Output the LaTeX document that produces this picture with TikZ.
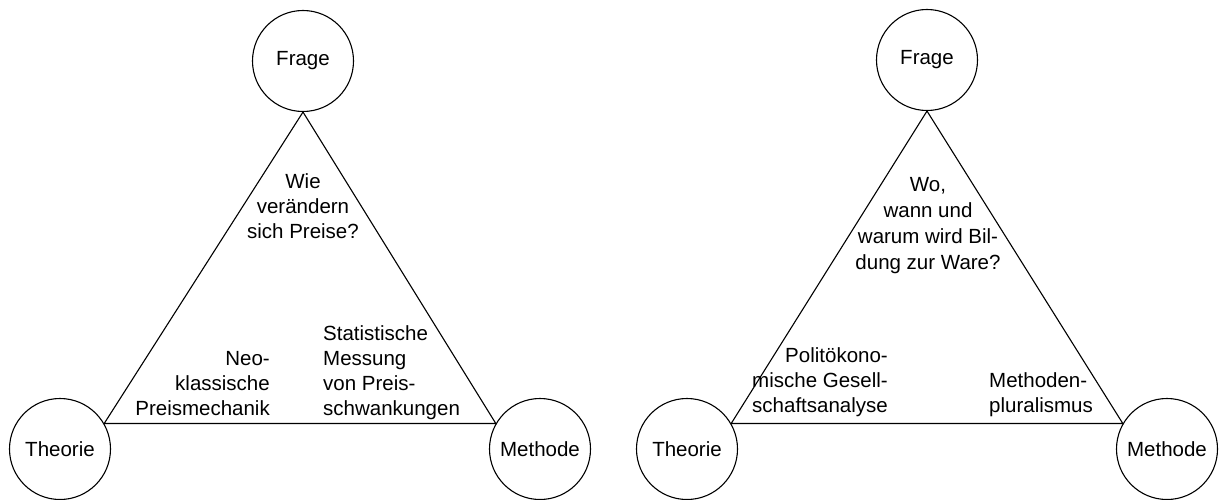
\documentclass[tikz,border=0pt]{standalone}
\usepackage{fontspec}
\setmainfont{Liberation Sans}
\begin{document}
\begin{tikzpicture}[x=1pt,y=-1pt,
  kreis/.style={circle,draw,line width=1.1pt,minimum size=101pt,inner sep=0pt},
  txt/.style={inner sep=0pt,font=\fontsize{20.5}{25}\selectfont}]
\useasboundingbox (0,0) rectangle (1221,500);
% linkes Dreieck
\node [kreis,txt] (frage1) at (303,61) {Frage};
\node [kreis,txt] (theorie1) at (60,449) {Theorie};
\node [kreis,txt] (methode1) at (540,449) {Methode};
\draw [line width=1.1pt,line join=miter] (frage1.south) -- (theorie1.30) -- (methode1.150) -- cycle;
\node [txt,align=center,anchor=base] (q1) at (303,238) {Wie\\verändern\\sich Preise?};
\node [txt,align=right,anchor=base east] (t1) at (270,415) {Neo-\\klassische\\Preismechanik};
\node [txt,align=left,anchor=base west] (m1) at (323,415) {Statistische\\Messung\\von Preis-\\schwankungen};
% rechtes Dreieck
\node [kreis,txt] (frage2) at (927,60) {Frage};
\node [kreis,txt] (theorie2) at (687,449) {Theorie};
\node [kreis,txt] (methode2) at (1167,449) {Methode};
\draw [line width=1.1pt,line join=miter] (frage2.south) -- (theorie2.30) -- (methode2.150) -- cycle;
\node [txt,align=center,anchor=base,font=\fontsize{20.5}{26}\selectfont] (q2) at (928,269) {Wo,\\wann und\\warum wird Bil-\\dung zur Ware?};
\node [txt,align=right,anchor=base east] (t2) at (888,412) {Politökono-\\mische Gesell-\\schaftsanalyse};
\node [txt,align=left,anchor=base west] (m2) at (989,412) {Methoden-\\pluralismus};
\end{tikzpicture}
\end{document}
